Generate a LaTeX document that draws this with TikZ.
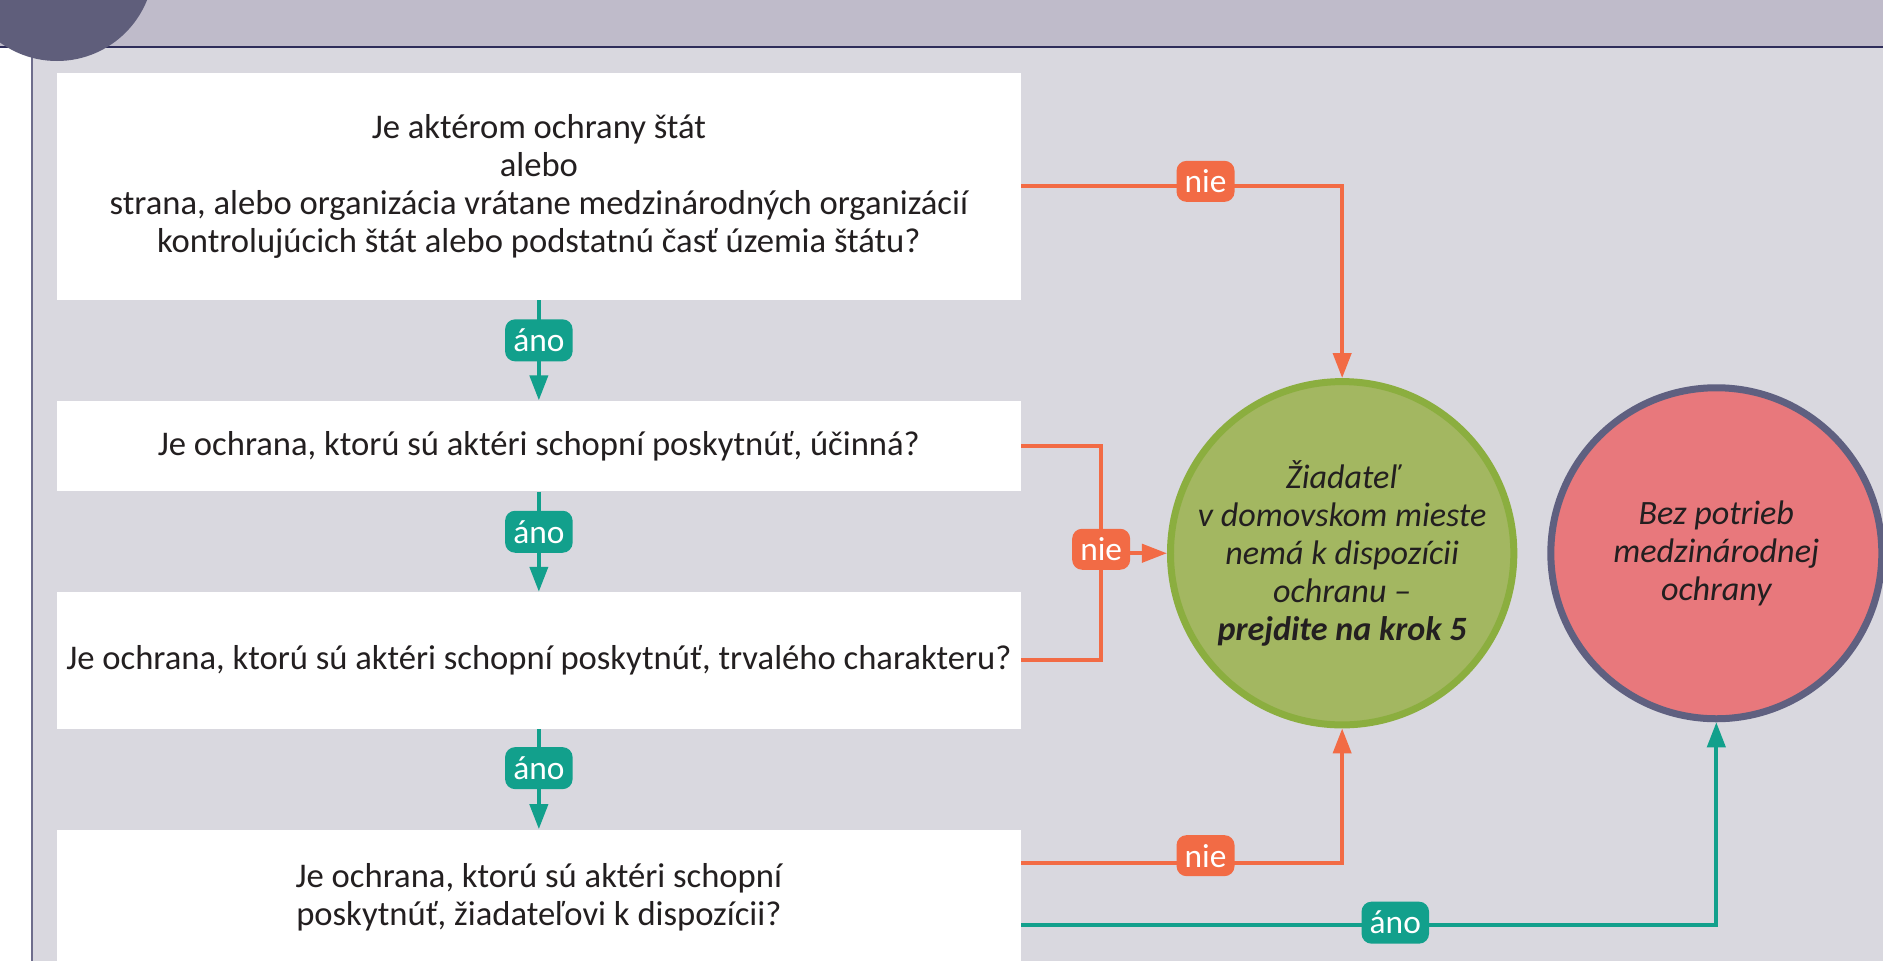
\documentclass[tikz,border=0pt]{standalone}
\usepackage{fontspec}
\setmainfont{Carlito}
\usepackage{xcolor}
\usetikzlibrary{arrows.meta,positioning,calc}
\definecolor{pagebg}{HTML}{D9D8DF}
\definecolor{headbg}{HTML}{BFBBCA}
\definecolor{headline}{HTML}{2E2D5A}
\definecolor{stepdisc}{HTML}{5F5E7B}
\definecolor{sideline}{HTML}{6E6D8C}
\definecolor{anocol}{HTML}{12A08C}
\definecolor{niecol}{HTML}{F26B45}
\definecolor{okfill}{HTML}{A3B761}
\definecolor{okline}{HTML}{8BAE3F}
\definecolor{nofill}{HTML}{E8787C}
\definecolor{noline}{HTML}{5F6080}
\definecolor{textcol}{HTML}{231F20}
\newcommand\qfont{\fontsize{19.7pt}{21.7pt}\selectfont}
\newcommand\okfont{\fontsize{19.4pt}{21.7pt}\selectfont}
\newcommand\lblfont{\fontsize{19pt}{21pt}\selectfont}

\begin{document}
\begin{tikzpicture}[
    qbox/.style={rectangle, fill=white, minimum width=19.29cm, align=center, inner sep=0pt, font=\qfont, text=textcol},
    okcirc/.style={circle, draw=okline, fill=okfill, line width=0.14cm, minimum size=6.68cm, align=center, inner sep=0pt, font=\okfont\itshape, text=textcol},
    nocirc/.style={circle, draw=noline, fill=nofill, line width=0.14cm, minimum size=6.62cm, align=center, inner sep=0pt, font=\okfont\itshape, text=textcol},
    anolbl/.style={rectangle, rounded corners=0.2cm, fill=anocol, text=white, minimum width=1.35cm, minimum height=0.84cm, inner sep=0pt, font=\lblfont},
    nielbl/.style={rectangle, rounded corners=0.2cm, fill=niecol, text=white, minimum width=1.16cm, minimum height=0.82cm, inner sep=0pt, font=\lblfont},
    anoarrow/.style={-{Triangle[length=0.5cm, width=0.36cm]}, line width=0.08cm, anocol},
    niearrow/.style={-{Triangle[length=0.5cm, width=0.36cm]}, line width=0.08cm, niecol},
    nieline/.style={line width=0.08cm, niecol}
]
    % Page background and header
    \useasboundingbox (0,0) rectangle (37.66,-19.22);
    \fill[pagebg] (0.64,0) rectangle (37.66,-19.22);
    \fill[headbg] (0,0) rectangle (37.66,-0.94);
    \draw[headline, line width=0.04cm] (0,-0.94) -- (37.66,-0.94);
    \draw[sideline, line width=0.04cm] (0.64,-1.0) -- (0.64,-19.22);
    \fill[stepdisc] (1.14,0.72) circle (1.94);

    % Questions
    \node[qbox, minimum height=4.546cm] (q1) at (10.777,-3.727) {Je aktérom ochrany štát\\alebo\\strana, alebo organizácia vrátane medzinárodných organizácií\\kontrolujúcich štát alebo podstatnú časť územia štátu?};
    \node[qbox, minimum height=1.814cm, below=2cm of q1] (q2) {Je ochrana, ktorú sú aktéri schopní poskytnúť, účinná?};
    \node[qbox, minimum height=2.734cm, below=2cm of q2] (q3) {Je ochrana, ktorú sú aktéri schopní poskytnúť, trvalého charakteru?};
    \node[qbox, minimum height=2.7cm, below=2cm of q3] (q4) {Je ochrana, ktorú sú aktéri schopní\\poskytnúť, žiadateľovi k dispozícii?};

    % Outcomes
    \coordinate (jn) at ($(q2.east)!0.5!(q3.east) + (1.594,0)$);
    \node[okcirc] (ok) at ($(jn)+(4.82,0)$) {Žiadateľ\\v domovskom mieste\\nemá k dispozícii\\ochranu –\\\textbf{prejdite na krok 5}};
    \node[nocirc, right=0.6cm of ok] (no) {Bez potrieb\\medzinárodnej\\ochrany};

    % Yes arrows
    \draw[anoarrow] (q1) -- node[anolbl, pos=0.4] {áno} (q2);
    \draw[anoarrow] (q2) -- node[anolbl, pos=0.4] {áno} (q3);
    \draw[anoarrow] (q3) -- node[anolbl, pos=0.39] {áno} (q4);

    % No arrows
    \draw[niearrow] (q1.east) -| node[nielbl, pos=0.287, yshift=0.1cm] {nie} (ok.north);
    \draw[nieline] (q2.east) -| (jn) |- (q3.east);
    \draw[niearrow] (jn) -- (ok);
    \node[nielbl] (nmid) at ([yshift=0.08cm]jn) {nie};
    \draw[niearrow] ([yshift=-0.67cm]q4.north east) -| node[nielbl, pos=0.287, yshift=0.14cm] {nie} (ok.south);
    \draw[anoarrow] ([yshift=-1.92cm]q4.north east) -| node[anolbl, pos=0.269, yshift=0.05cm] {áno} (no.south);

\end{tikzpicture}
\end{document}
